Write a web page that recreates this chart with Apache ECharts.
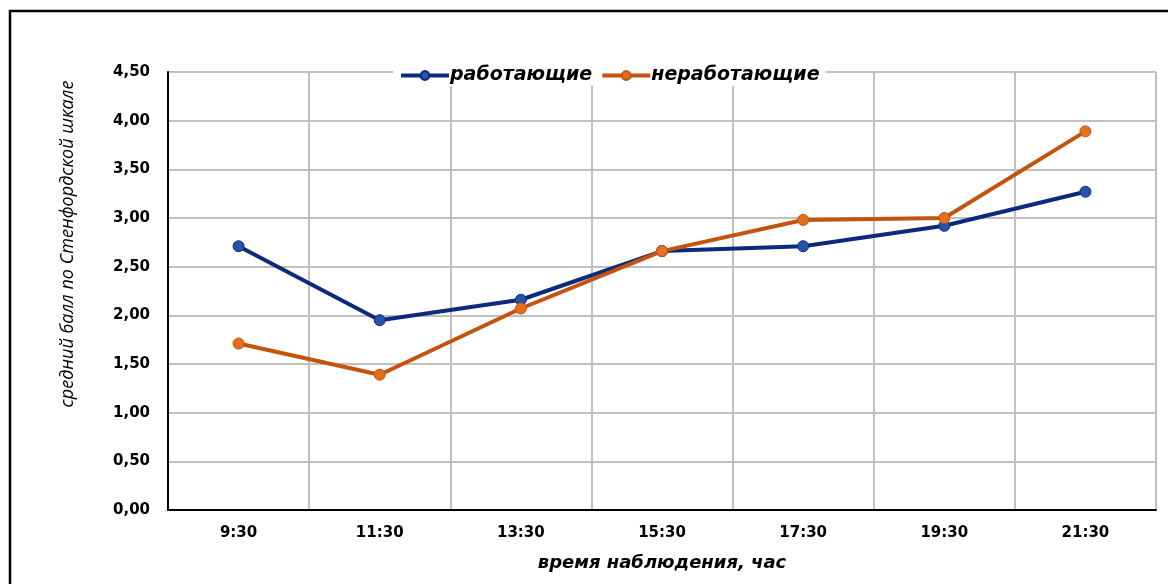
<!DOCTYPE html>
<html>
<head>
<meta charset="utf-8">
<script src="https://cdn.jsdelivr.net/npm/echarts@6/dist/echarts.min.js"></script>
<style>
  html, body { margin: 0; padding: 0; background: #fff; }
  #chart { width: 1168px; height: 584px; }
</style>
</head>
<body>
<div id="chart"></div>
<script>
// Observation times (x axis)
const times = ['9:30', '11:30', '13:30', '15:30', '17:30', '19:30', '21:30'];
// Mean Stanford sleepiness score, working group
const working = [2.71, 1.95, 2.16, 2.66, 2.71, 2.92, 3.27];
// Mean Stanford sleepiness score, non-working group
const nonWorking = [1.71, 1.39, 2.07, 2.66, 2.98, 3.00, 3.89];
// Y axis range and step
const yMin = 0, yMax = 4.5, yStep = 0.5;

const tickFont = 'DejaVu Sans, Verdana, sans-serif';
const chart = echarts.init(document.getElementById('chart'), null, { renderer: 'canvas' });

chart.setOption({
  backgroundColor: '#ffffff',
  animation: false,
  grid: { left: 168, right: 12, top: 72, bottom: 74, containLabel: false },
  legend: {
    left: 393,
    top: 64,
    padding: [2, 6, 1, 6],
    backgroundColor: '#ffffff',
    itemGap: 8,
    itemWidth: 48,
    itemHeight: 11,
    textStyle: {
      fontFamily: tickFont,
      fontStyle: 'italic',
      fontWeight: 'bold',
      fontSize: 19,
      color: '#000',
      padding: [0, 0, 0, -4]
    },
    data: [
      { name: 'работающие', lineStyle: { width: 4, color: '#0c2a7c' } },
      { name: 'неработающие', lineStyle: { width: 4, color: '#c4530e' } }
    ]
  },
  xAxis: {
    type: 'category',
    data: times,
    boundaryGap: true,
    name: 'время наблюдения, час',
    nameLocation: 'middle',
    nameGap: 44,
    nameTextStyle: {
      fontFamily: tickFont,
      fontStyle: 'italic',
      fontWeight: 'bold',
      fontSize: 18,
      color: '#000'
    },
    axisLine: { show: true, lineStyle: { color: '#000', width: 2 } },
    axisTick: { show: false },
    axisLabel: {
      margin: 16,
      fontFamily: tickFont,
      fontWeight: 'bold',
      fontSize: 15,
      color: '#000'
    },
    splitLine: { show: true, lineStyle: { color: '#c0c0c0', width: 2 } }
  },
  yAxis: {
    type: 'value',
    min: yMin,
    max: yMax,
    interval: yStep,
    axisLine: { show: true, lineStyle: { color: '#000', width: 2 } },
    axisTick: { show: false },
    axisLabel: {
      margin: 18,
      fontFamily: tickFont,
      fontWeight: 'bold',
      fontSize: 15,
      color: '#000',
      formatter: v => v.toFixed(2).replace('.', ',')
    },
    splitLine: { show: true, lineStyle: { color: '#c0c0c0', width: 2 } }
  },
  series: [
    {
      name: 'работающие',
      type: 'line',
      data: working,
      symbol: 'circle',
      symbolSize: 11,
      lineStyle: { color: '#0c2a7c', width: 4 },
      itemStyle: { color: '#2553a6', borderColor: '#0c2a7c', borderWidth: 1 },
      z: 3
    },
    {
      name: 'неработающие',
      type: 'line',
      data: nonWorking,
      symbol: 'circle',
      symbolSize: 11,
      lineStyle: { color: '#c4530e', width: 4 },
      itemStyle: { color: '#e2701e', borderColor: '#c4530e', borderWidth: 1 },
      z: 4
    }
  ],
  graphic: [
    {
      // outer frame (left and top edges)
      type: 'polyline',
      silent: true,
      shape: { points: [[10, 584], [10, 11], [1168, 11]] },
      style: { stroke: '#000', lineWidth: 2.5, fill: null }
    },
    {
      // y axis title
      type: 'text',
      silent: true,
      x: 68,
      y: 244,
      rotation: Math.PI / 2,
      style: {
        text: 'средний балл по Стенфордской шкале',
        fontFamily: 'Open Sans, sans-serif',
        fontStyle: 'italic',
        fontSize: 18,
        fill: '#000',
        align: 'center',
        verticalAlign: 'middle'
      }
    }
  ]
});
</script>
</body>
</html>
